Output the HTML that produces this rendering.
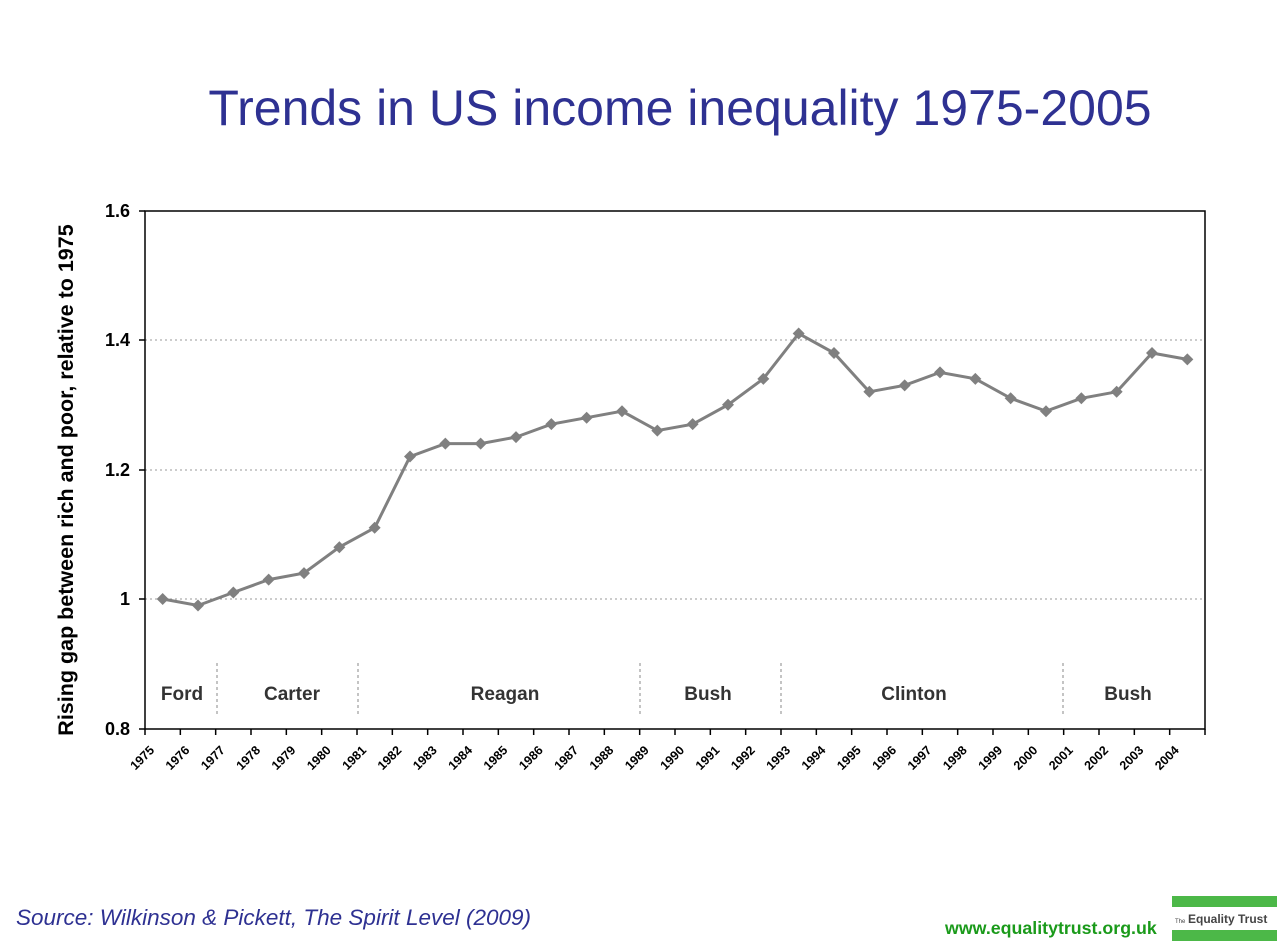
<!DOCTYPE html>
<html><head><meta charset="utf-8"><style>
body{margin:0;background:#fff;}
svg{display:block;}
</style></head><body>
<svg width="1280" height="943" xmlns="http://www.w3.org/2000/svg" font-family="Liberation Sans, sans-serif">
<rect width="1280" height="943" fill="#fff"/>
<text x="680" y="125" font-size="50" fill="#2e3192" text-anchor="middle">Trends in US income inequality 1975-2005</text>
<g stroke="#999" stroke-dasharray="2,3" stroke-width="1">
<line x1="145" y1="340" x2="1205" y2="340"/>
<line x1="145" y1="470" x2="1205" y2="470"/>
<line x1="145" y1="599" x2="1205" y2="599"/>
</g>
<rect x="145" y="211" width="1060" height="518" fill="none" stroke="#000" stroke-width="1.5"/>
<g font-size="18" font-weight="bold" text-anchor="end">
<text x="130" y="217">1.6</text><text x="130" y="346">1.4</text><text x="130" y="476">1.2</text><text x="130" y="605">1</text><text x="130" y="735">0.8</text>
</g>
<g stroke="#000" stroke-width="1.5">
<line x1="139" y1="211" x2="145" y2="211"/><line x1="139" y1="340" x2="145" y2="340"/><line x1="139" y1="470" x2="145" y2="470"/><line x1="139" y1="599" x2="145" y2="599"/><line x1="139" y1="729" x2="145" y2="729"/>
</g>
<text transform="translate(73,480) rotate(-90)" font-size="21.5" font-weight="bold" text-anchor="middle">Rising gap between rich and poor, relative to 1975</text>
<g id="ticks" stroke="#000" stroke-width="1.5"></g>
<g id="years" font-size="12.5" font-weight="bold" text-anchor="end"></g>
<g stroke="#888" stroke-dasharray="3,3" stroke-width="1">
<line x1="217" y1="663" x2="217" y2="715"/><line x1="358" y1="663" x2="358" y2="715"/><line x1="640" y1="663" x2="640" y2="715"/><line x1="781" y1="663" x2="781" y2="715"/><line x1="1063" y1="663" x2="1063" y2="715"/>
</g>
<g font-size="19" font-weight="bold" fill="#333" text-anchor="middle">
<text x="182" y="700">Ford</text><text x="292" y="700">Carter</text><text x="505" y="700">Reagan</text><text x="708" y="700">Bush</text><text x="914" y="700">Clinton</text><text x="1128" y="700">Bush</text>
</g>
<polyline id="line" fill="none" stroke="#808080" stroke-width="3"/>
<g id="pts" fill="#808080"></g>
<text x="16" y="925" font-size="22.5" font-style="italic" fill="#2e3192">Source: Wilkinson &amp; Pickett, The Spirit Level (2009)</text>
<text x="945" y="934" font-size="17.8" font-weight="bold" fill="#1a9a1a">www.equalitytrust.org.uk</text>
<rect x="1172" y="896" width="105" height="11" fill="#4cb848"/>
<rect x="1172" y="930" width="105" height="11" fill="#4cb848"/>
<text x="1175" y="923" font-size="6" fill="#444">The</text>
<text x="1188" y="923" font-size="12" font-weight="bold" fill="#444">Equality Trust</text>
<script>
var v=[1.0,0.99,1.01,1.03,1.04,1.08,1.11,1.22,1.24,1.24,1.25,1.27,1.28,1.29,1.26,1.27,1.30,1.34,1.41,1.38,1.32,1.33,1.35,1.34,1.31,1.29,1.31,1.32,1.38,1.37];
var w=1060/30,ns="http://www.w3.org/2000/svg",pts=[];
var pg=document.getElementById('pts'),tg=document.getElementById('ticks'),yg=document.getElementById('years');
for(var i=0;i<=30;i++){var bx=145+w*i;var l=document.createElementNS(ns,'line');l.setAttribute('x1',bx);l.setAttribute('x2',bx);l.setAttribute('y1',729);l.setAttribute('y2',735);tg.appendChild(l);
if(i<30){var t=document.createElementNS(ns,'text');t.setAttribute('transform','translate('+(bx+10)+',751) rotate(-45)');t.textContent=1975+i;yg.appendChild(t);}}
v.forEach(function(a,i){var x=145+w*(i+0.5),y=599-(a-1)*647.5;pts.push(x.toFixed(1)+','+y.toFixed(1));
var p=document.createElementNS(ns,'polygon');p.setAttribute('points',x+','+(y-6)+' '+(x+6)+','+y+' '+x+','+(y+6)+' '+(x-6)+','+y);pg.appendChild(p);});
document.getElementById('line').setAttribute('points',pts.join(' '));
</script>
</svg>
</body></html>
